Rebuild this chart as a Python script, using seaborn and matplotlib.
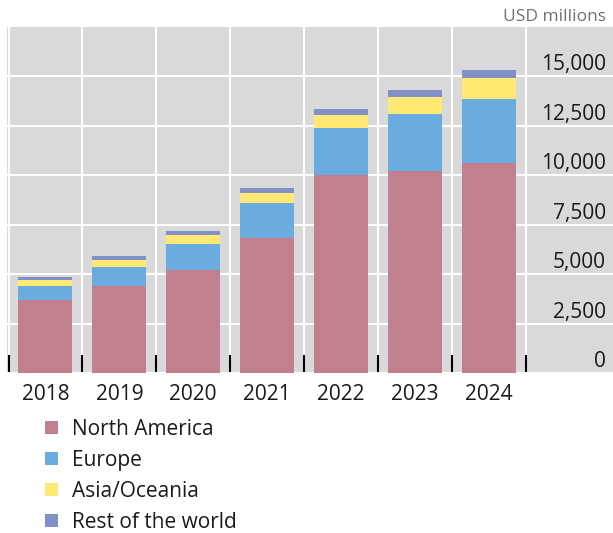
import matplotlib
matplotlib.use("Agg")
import matplotlib.pyplot as plt
import matplotlib.patches as mpatches
import matplotlib.transforms as mtrans
import numpy as np
import pandas as pd
import seaborn as sns

years = ["2018", "2019", "2020", "2021", "2022", "2023", "2024"]
north_america = [3690, 4390, 5200, 6820, 10000, 10200, 10620]
europe = [700, 960, 1310, 1770, 2370, 2880, 3230]
asia_oceania = [300, 350, 460, 500, 660, 860, 1060]
rest_of_world = [150, 220, 200, 250, 300, 350, 400]
series_names = ["North America", "Europe", "Asia/Oceania", "Rest of the world"]
colors = ["#C27F8E", "#6AACE0", "#FFE972", "#8290C8"]
ytick_values = [0, 2500, 5000, 7500, 10000, 12500, 15000]

sns.set_theme(style="white")
plt.rcParams["font.family"] = ["Open Sans", "DejaVu Sans"]

W, H = 613, 533
fig = plt.figure(figsize=(W / 100, H / 100), dpi=100)
ax = fig.add_axes([7 / W, (H - 373) / H, 1 - 7 / W, (373 - 26.7) / H])
ax.set_facecolor("#D9D9D9")

df = pd.DataFrame({
    "year": years,
    series_names[0]: north_america,
    series_names[1]: europe,
    series_names[2]: asia_oceania,
    series_names[3]: rest_of_world,
})
cum = df[series_names].cumsum(axis=1)

# draw from the top layer down so each lower layer covers the one above
for name, col in reversed(list(zip(series_names, colors))):
    sns.barplot(x=df["year"], y=cum[name], color=col, saturation=1,
                width=0.73, linewidth=0, edgecolor="none", ax=ax, zorder=2)

ax.set_xlim(-0.5 - 1.5 / 73.9, -0.5 + (W - 8.5) / 73.9)
ax.set_ylim(0, 17500)
for s in ax.spines.values():
    s.set_visible(False)

ax.set_yticks(ytick_values)
ax.set_yticklabels([])
ax.tick_params(axis="y", length=0, left=False, right=False)
ax.set_xticks(range(len(years)))
ax.set_xticklabels(years)
ax.set_xticks(np.arange(-0.5, len(years), 1.0), minor=True)
ax.tick_params(axis="x", which="major", bottom=True, length=0, pad=8,
               labelsize=15, labelcolor="#1a1a1a")
ax.tick_params(axis="x", which="minor", bottom=True, direction="in",
               length=13, width=1.5, color="black")
ax.set_xlabel("")
ax.set_ylabel("")

ax.set_axisbelow(True)
ax.grid(axis="y", which="major", color="white", linewidth=1.5)
ax.grid(axis="x", which="minor", color="white", linewidth=1.5)
ax.grid(axis="x", which="major", visible=False)

trans = mtrans.blended_transform_factory(ax.transAxes, ax.transData)
off = mtrans.offset_copy(trans, fig=fig, x=0, y=6, units="dots")
for v in ytick_values:
    ax.text((606 - 7) / (W - 7), v, f"{v:,}", transform=off, ha="right",
            va="baseline", fontsize=15, color="#1a1a1a")

fig.text(606 / W, 1 - 21 / H, "USD millions", ha="right", va="baseline",
         fontsize=12.5, color="#707070")

handles = [mpatches.Patch(facecolor=c, edgecolor="none", label=n)
           for n, c in zip(series_names, colors)]
fig.legend(handles=handles, loc="upper left", bbox_to_anchor=(45 / W, 1 - 419 / H),
           frameon=False, fontsize=15, handlelength=0.62, handleheight=0.62,
           handletextpad=0.67, labelspacing=0.48, borderpad=0, borderaxespad=0,
           labelcolor="#1a1a1a")

fig.savefig("out.png", dpi=100)
